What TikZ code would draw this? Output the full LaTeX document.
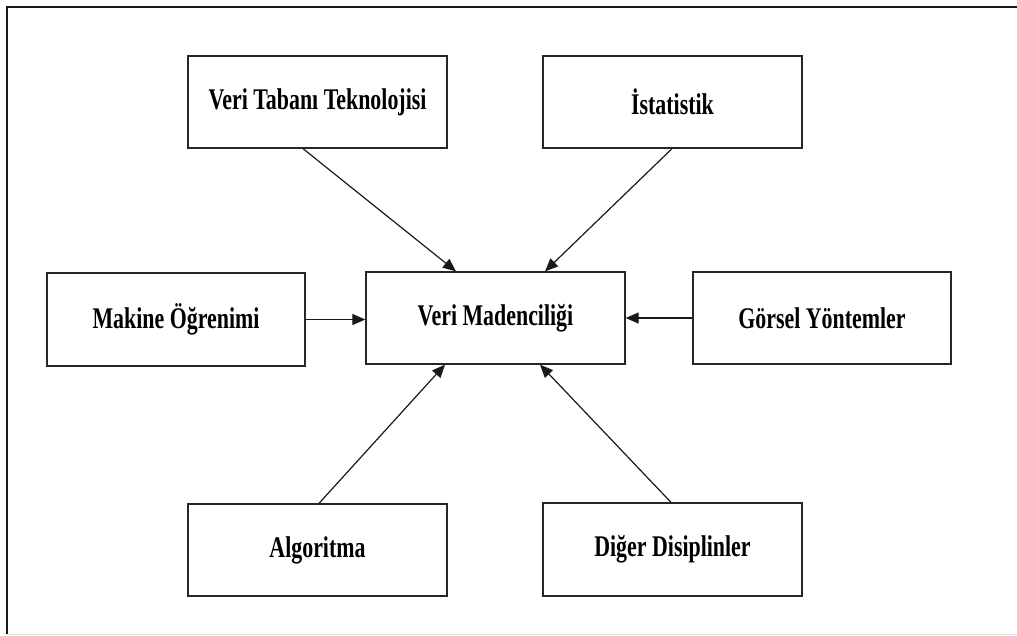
\documentclass[tikz,border=0pt]{standalone}
\usepackage{fontspec}
\setmainfont{Liberation Serif}
\usetikzlibrary{arrows.meta}

% narrow bold serif labels
\newcommand{\boxlabel}[1]{\scalebox{0.73}[1]{\fontsize{30}{31}\selectfont\bfseries #1}}

\tikzset{
  topic/.style={draw=black!85, line width=1.3pt, fill=white, rectangle,
                minimum width=259pt, minimum height=92pt, inner sep=0pt},
  feed/.style={draw=black!90, line width=1.2pt,
               -{Triangle[length=13pt,width=11pt]}},
  frameline/.style={draw=black!90, line width=2.5pt}
}

\begin{document}
\begin{tikzpicture}[x=1pt,y=-1pt]
  \useasboundingbox (0,0) rectangle (1017,635);

  % page frame
  \coordinate (ftl) at (7,7);
  \coordinate (ftr) at (1017,7);
  \coordinate (fbl) at (7,634);
  \coordinate (fbr) at (1017,634);
  \draw[frameline] (ftr) -- (ftl) -- (fbl);
  \draw[black!12, line width=1pt] (fbl) -- (fbr);

  % topics
  \node[topic] (vtt) at (317.5,102)   {\boxlabel{Veri Tabanı Teknolojisi}};
  \node[topic] (ist) at (672.5,102)   {\boxlabel{İstatistik}};
  \node[topic, minimum width=258pt, minimum height=93pt] (mak) at (176,319.5) {\boxlabel{Makine Öğrenimi}};
  \node[topic] (vm)  at (495.5,318)   {\boxlabel{Veri Madenciliği}};
  \node[topic, minimum width=258pt] (gor) at (822,318) {\boxlabel{Görsel Yöntemler}};
  \node[topic] (alg) at (317.5,550)   {\boxlabel{Algoritma}};
  \node[topic, minimum height=93pt] (dig) at (672.5,549.5) {\boxlabel{Diğer Disiplinler}};

  % contributions into data mining
  \draw[feed] ([xshift=-14.5pt]vtt.south) -- ([xshift=-39.5pt]vm.north);
  \draw[feed] ([xshift=-0.5pt]ist.south)  -- ([xshift=49.5pt]vm.north);
  \draw[feed] (mak.east) -- (mak.east -| vm.west);
  \draw[feed] (gor.west) -- (vm.east);
  \draw[feed] ([xshift=1.5pt]alg.north)   -- ([xshift=-50.5pt]vm.south);
  \draw[feed] ([xshift=-1.5pt]dig.north)  -- ([xshift=44.5pt]vm.south);
\end{tikzpicture}
\end{document}
